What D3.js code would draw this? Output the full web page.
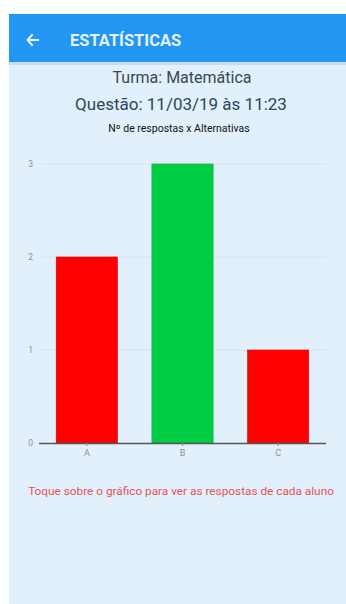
<!DOCTYPE html>
<html><head><meta charset="utf-8">
<script src="https://cdn.jsdelivr.net/npm/d3@7"></script>
<style>
html,body{margin:0;padding:0;background:#fff;}
svg{display:block;font-family:Roboto,"Noto Sans",sans-serif;}
</style></head>
<body>
<svg id="c" width="346" height="604"></svg>
<script>
const categories = ["A", "B", "C"];
const values = [2, 3, 1];
const barColors = ["#ff0000", "#00cc44", "#ff0000"];
const yTicks = [0, 1, 2, 3];
const headerTitle = "ESTATÍSTICAS";
const line1 = "Turma: Matemática";
const line2 = "Questão: 11/03/19 às 11:23";
const chartTitle = "Nº de respostas x Alternativas";
const footer = "Toque sobre o gráfico para ver as respostas de cada aluno";

const svg = d3.select("#c");
// panel
svg.append("rect").attr("x",9).attr("y",14).attr("width",337).attr("height",590).attr("fill","#e2f0fb");
// header shadow
svg.append("rect").attr("x",9).attr("y",62).attr("width",337).attr("height",3).attr("fill","#c9dcec");
svg.append("rect").attr("x",9).attr("y",14).attr("width",337).attr("height",48).attr("fill","#2196f3");
// back arrow
const ag = svg.append("g").attr("stroke","#e8f3fd").attr("stroke-width",2).attr("fill","none").attr("stroke-linecap","square");
ag.append("line").attr("x1",28).attr("y1",40).attr("x2",38).attr("y2",40);
ag.append("path").attr("d","M32,35 L27.5,40 L32,45");
svg.append("text").attr("x",70).attr("y",46).attr("fill","#e6f2fd").attr("font-size",16.5).attr("font-weight","bold").text(headerTitle);

svg.append("text").attr("x",182).attr("y",83).attr("text-anchor","middle").attr("font-size",16).attr("fill","#3d4650").text(line1);
svg.append("text").attr("x",181).attr("y",110).attr("text-anchor","middle").attr("font-size",17).attr("fill","#2a4660").text(line2);
svg.append("text").attr("x",179).attr("y",132).attr("text-anchor","middle").attr("font-size",10.5).attr("fill","#111").text(chartTitle);

const x = d3.scaleBand().domain(categories).range([39, 326]).paddingInner(0.36).paddingOuter(0.18);
const y = d3.scaleLinear().domain([0, 3]).range([443, 164]);

const yAxis = svg.append("g").attr("transform","translate(39,0)")
  .call(d3.axisLeft(y).tickValues(yTicks).tickFormat(d3.format("d")).tickSize(0).tickPadding(6));
yAxis.select(".domain").remove();
yAxis.selectAll("text").attr("fill","#8a8f94").attr("font-size",8.5).attr("font-family","Roboto,sans-serif");
svg.append("g").selectAll("line").data(yTicks.filter(d=>d>0)).join("line")
  .attr("x1",41).attr("x2",326).attr("y1",d=>y(d)).attr("y2",d=>y(d))
  .attr("stroke","#d4e2ee").attr("stroke-width",1);

svg.append("g").selectAll("rect").data(categories).join("rect")
  .attr("x",d=>x(d)).attr("width",x.bandwidth())
  .attr("y",(d,i)=>y(values[i])).attr("height",(d,i)=>y(0)-y(values[i]))
  .attr("fill",(d,i)=>barColors[i])
  .attr("stroke",(d,i)=>d3.color(barColors[i]).darker(0.4)).attr("stroke-width",0.6);

const xAxis = svg.append("g").attr("transform",`translate(0,${y(0)})`)
  .call(d3.axisBottom(x).tickSize(3).tickPadding(4));
xAxis.select(".domain").attr("d","M39,0.5H326").attr("stroke","#555").attr("stroke-width",1.3);
xAxis.selectAll(".tick line").attr("stroke","#888");
xAxis.selectAll("text").attr("fill","#8a8f94").attr("font-size",9).attr("font-family","Roboto,sans-serif");

svg.append("text").attr("x",181).attr("y",495).attr("text-anchor","middle").attr("font-size",11.8).attr("fill","#e25555").text(footer);
</script>
</body></html>
